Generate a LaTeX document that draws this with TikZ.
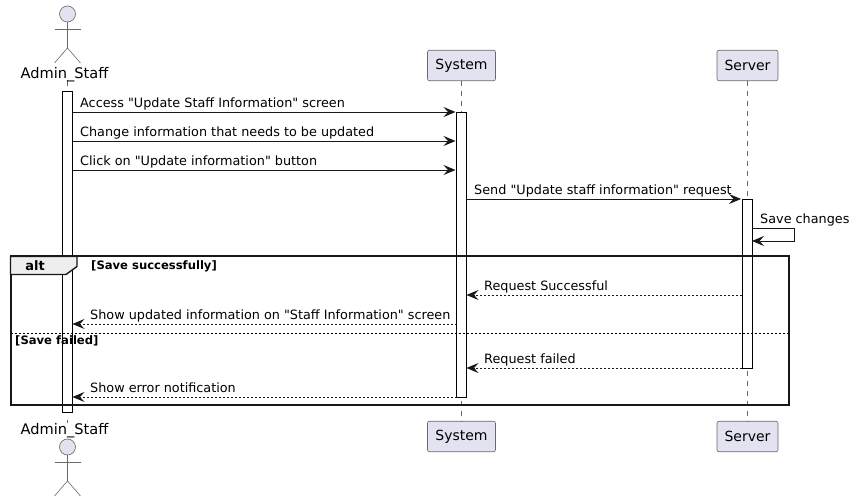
\documentclass[tikz,border=0pt]{standalone}
\usepackage{fontspec}
\setmainfont{DejaVu Sans}[Ligatures = TeXOff]
\usetikzlibrary{arrows.meta}
\definecolor{partfill}{HTML}{E2E2F0}
\definecolor{partline}{HTML}{181818}
\definecolor{tabfill}{HTML}{EEEEEE}
\tikzset{
    part/.style = {draw = partline!65, line width = 0.6pt, fill = partfill, rounded corners = 2pt, font = \fontsize{14}{16}\selectfont, inner sep = 0pt, minimum height = 30.5pt, outer sep = 0pt},
    partname/.style = {anchor = base, font = \fontsize{14.6}{16}\selectfont, inner sep = 0pt, text = black},
    lifeline/.style = {draw = partline!65, line width = 0.6pt, dash pattern = on 5pt off 5pt},
    limb/.style = {draw = partline!65, line width = 0.6pt},
    bar/.style = {draw = black, line width = 0.9pt, fill = white, minimum width = 10pt, inner sep = 0pt, outer sep = 0pt},
    msg/.style = {draw = partline, line width = 0.9pt, -{Stealth[length = 12pt, width = 10pt, inset = 4.5pt]}},
    reply/.style = {msg, line width = 0.8pt, dash pattern = on 2pt off 2pt},
    msgtext/.style = {anchor = base west, font = \fontsize{12.8}{15}\selectfont, inner sep = 0pt},
    guard/.style = {anchor = base west, font = \fontsize{11.6}{13}\bfseries\selectfont, inner sep = 0pt},
}
\begin{document}
\begin{tikzpicture}[x = 1pt, y = -1pt]
    \useasboundingbox [fill = white] (0, 0) rectangle (855, 502);
    % lifelines
    \coordinate (stafftop) at (67.5, 80);
    \coordinate (stafftick) at (67.5, 86);
    \coordinate (stafflowtick) at (67.5, 420);
    \coordinate (staffend) at (67.5, 423);
    \node [part, minimum width = 68pt] (system) at (461.5, 65.5) {System};
    \node [part, minimum width = 61pt] (server) at (747.5, 65.5) {Server};
    \node [part, minimum width = 68pt] (systemlow) at (461.5, 436.5) {System};
    \node [part, minimum width = 61pt] (serverlow) at (747.5, 436.5) {Server};
    \draw [limb] (stafftop) -- (stafftick);
    \draw [limb] (stafflowtick) -- (staffend);
    \draw [lifeline] (system) -- (systemlow);
    \draw [lifeline] (server) -- (serverlow);
    % actor at the top
    \node [partname] (staffname) at (64.5, 78.5) {Admin\_Staff};
    \draw [limb, fill = partfill] (67.5, 14) circle [radius = 8];
    \draw [limb] (67.5, 22) -- (67.5, 48);
    \draw [limb] (54.5, 29) -- (80.5, 29);
    \draw [limb] (54.5, 63) -- (67.5, 48) -- (80.5, 63);
    % actor at the bottom
    \node [partname] (stafflow) at (64.5, 434.5) {Admin\_Staff};
    \draw [limb, fill = partfill] (67.5, 447) circle [radius = 8];
    \draw [limb] (67.5, 455) -- (67.5, 481);
    \draw [limb] (54.5, 462) -- (80.5, 462);
    \draw [limb] (54.5, 496) -- (67.5, 481) -- (80.5, 496);
    % activations
    \node [bar, minimum height = 321pt] (barstaff) at (67.5, 251.5) {};
    \node [bar, minimum height = 285pt] (barsystem) at (461.5, 254.5) {};
    \node [bar, minimum height = 169pt] (barserver) at (747, 283.5) {};
    % alt frame
    \node [draw = partline, line width = 2pt, minimum width = 778.5pt, minimum height = 148.5pt, inner sep = 0pt, outer sep = 0pt] (altframe) at (399.75, 330.75) {};
    \draw [draw = partline, line width = 1.4pt, fill = tabfill] (altframe.north west) -- ++(66.5, 0) -- ++(0, 10) -- ++(-11, 8) -- ++(-55.5, 0) -- cycle;
    \node [anchor = base, font = \fontsize{13}{15}\bfseries\selectfont, inner sep = 0pt] (alttext) at (35, 270.5) {alt};
    \node [guard] (guardok) at (91, 269.5) {[Save successfully]};
    \coordinate (split) at (0, 333);
    \draw [draw = black, line width = 0.9pt, dash pattern = on 2pt off 2pt] (altframe.west |- split) -- (altframe.east |- split);
    \node [guard] (guardbad) at (15, 345) {[Save failed]};
    % messages
    \coordinate (rowa) at (0, 112);
    \coordinate (rowb) at (0, 141);
    \coordinate (rowc) at (0, 170);
    \coordinate (rowd) at (0, 199);
    \coordinate (rowe) at (0, 295);
    \coordinate (rowf) at (0, 324);
    \coordinate (rowg) at (0, 368);
    \coordinate (rowh) at (0, 397);
    \coordinate (selftop) at (794.5, 228);
    \coordinate (selfend) at (794.5, 241);
    \node [msgtext] (textaccess) at (80, 107.6) {Access "Update Staff Information" screen};
    \draw [msg, shorten > = 1pt] (barstaff.east |- rowa) -- (barsystem.west |- rowa);
    \node [msgtext] (textchange) at (80, 136.6) {Change information that needs to be updated};
    \draw [msg, shorten > = 1pt] (barstaff.east |- rowb) -- (barsystem.west |- rowb);
    \node [msgtext] (textclick) at (80, 165.6) {Click on "Update information" button};
    \draw [msg, shorten > = 1pt] (barstaff.east |- rowc) -- (barsystem.west |- rowc);
    \node [msgtext] (textsend) at (474, 194.6) {Send "Update staff information" request};
    \draw [msg, shorten > = 1pt] (barsystem.east |- rowd) -- (barserver.west |- rowd);
    \node [msgtext] (textsave) at (760, 224) {Save changes};
    \draw [msg] (barserver.east |- selftop) -- (selftop) -- (selfend) -- (barserver.east |- selfend);
    \node [msgtext] (textok) at (484, 290.6) {Request Successful};
    \draw [reply] (barserver.west |- rowe) -- (barsystem.east |- rowe);
    \node [msgtext] (textshow) at (90, 319.6) {Show updated information on "Staff Information" screen};
    \draw [reply] (barsystem.west |- rowf) -- (barstaff.east |- rowf);
    \node [msgtext] (textfail) at (484, 363.6) {Request failed};
    \draw [reply] (barserver.west |- rowg) -- (barsystem.east |- rowg);
    \node [msgtext] (texterror) at (90, 392.6) {Show error notification};
    \draw [reply] (barsystem.west |- rowh) -- (barstaff.east |- rowh);
\end{tikzpicture}
\end{document}
